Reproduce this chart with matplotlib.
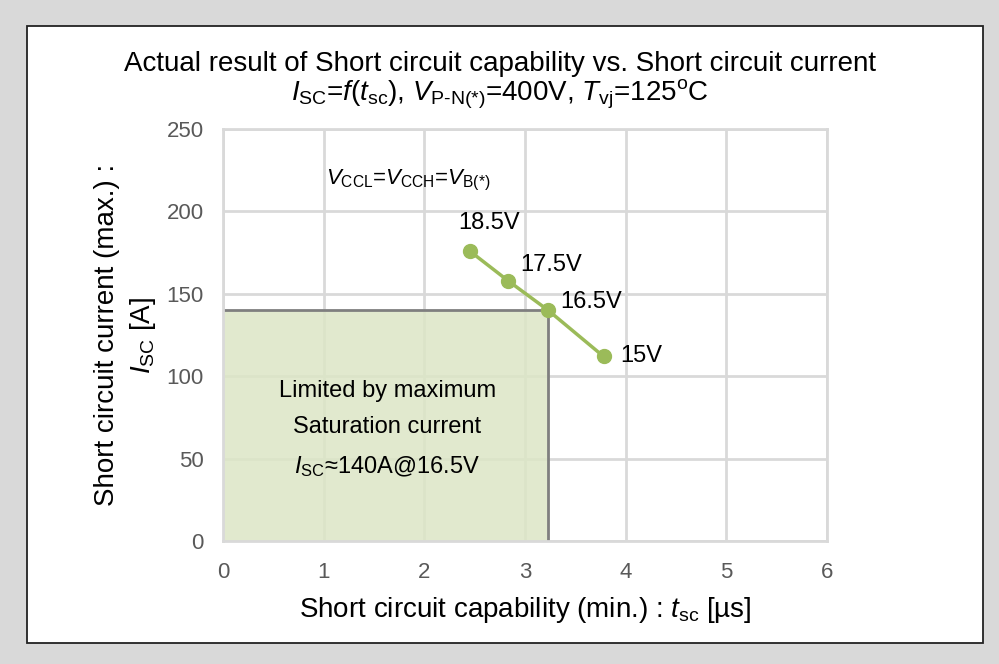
import matplotlib.pyplot as plt
from matplotlib.patches import Rectangle

plt.rcParams['font.family'] = ['Liberation Sans', 'DejaVu Sans']
plt.rcParams['mathtext.fontset'] = 'custom'
plt.rcParams['mathtext.rm'] = 'Liberation Sans'
plt.rcParams['mathtext.it'] = 'Liberation Sans:italic'

# data
gate_voltage = ["18.5V", "17.5V", "16.5V", "15V"]
t_sc = [2.45, 2.83, 3.23, 3.78]
i_sc = [176, 158, 140, 112]
limit_t = 3.23
limit_i = 140
label_offsets = [(-11, 28), (12, 16), (12, 8), (17, 0)]

fig = plt.figure(figsize=(9.99, 6.64), dpi=100)
fig.patch.set_facecolor("#d9d9d9")
fig.patches.append(Rectangle((27 / 999, 21 / 664), 956 / 999, 617 / 664,
                             transform=fig.transFigure, facecolor="white",
                             edgecolor="#222222", linewidth=1.3, zorder=-1))

ax = fig.add_axes([223 / 999, 123 / 664, 604 / 999, 412 / 664])
ax.set_facecolor("none")
ax.set_xlim(0, 6)
ax.set_ylim(0, 250)
ax.set_xticks(range(0, 7))
ax.set_yticks(range(0, 251, 50))
ax.grid(True, color="#d9d9d9", linewidth=2)
ax.set_axisbelow(True)
for s in ax.spines.values():
    s.set_color("#d9d9d9")
    s.set_linewidth(2)
ax.tick_params(length=0, labelsize=16, labelcolor="#595959")
ax.tick_params(axis="x", pad=15)
ax.tick_params(axis="y", pad=14)

ax.add_patch(Rectangle((0, 0), limit_t, limit_i, facecolor="#dce6c6",
                       edgecolor="none", alpha=0.85, zorder=1))
ax.plot([0, limit_t, limit_t], [limit_i, limit_i, 0], color="#7f7f7f",
        linewidth=2, zorder=2)

ax.plot(t_sc, i_sc, color="#9bbb59", linewidth=2.5, marker="o",
        markersize=10, zorder=3)
for lab, x, y, off in zip(gate_voltage, t_sc, i_sc, label_offsets):
    ax.annotate(lab, (x, y), xytext=off, textcoords="offset pixels",
                ha="left", va="center", fontsize=17)

ax.text(1.84, 219, r"$\mathit{V}_{\mathrm{CCL}}$=$\mathit{V}_{\mathrm{CCH}}$=$\mathit{V}_{\mathrm{B(*)}}$",
        ha="center", va="center", fontsize=16)
ax.text(1.63, 91, "Limited by maximum", ha="center", va="center", fontsize=17)
ax.text(1.63, 69, "Saturation current", ha="center", va="center", fontsize=17)
ax.text(1.63, 45, r"$\mathit{I}_{\mathrm{SC}}$≈140A@16.5V", ha="center",
        va="center", fontsize=17)

fig.text(0.5, 1 - 64 / 664,
         "Actual result of Short circuit capability vs. Short circuit current",
         ha="center", va="center", fontsize=20)
fig.text(0.5, 1 - 94 / 664,
         r"$\mathit{I}_{\mathrm{SC}}$=$\mathit{f}$($\mathit{t}_{\mathrm{sc}}$), "
         r"$\mathit{V}_{\mathrm{P\text{-}N(*)}}$=400V, $\mathit{T}_{\mathrm{vj}}$=125$^{\mathrm{o}}$C",
         ha="center", va="center", fontsize=20)

fig.text(525 / 999, 1 - 610 / 664,
         r"Short circuit capability (min.) : $\mathit{t}_{\mathrm{sc}}$ [µs]",
         ha="center", va="center", fontsize=20)
fig.text(107 / 999, 1 - 335 / 664, "Short circuit current (max.) :",
         ha="center", va="center", rotation=90, fontsize=20)
fig.text(143 / 999, 1 - 335 / 664, r"$\mathit{I}_{\mathrm{SC}}$ [A]",
         ha="center", va="center", rotation=90, fontsize=20)

fig.savefig("out.png", dpi=100, facecolor=fig.get_facecolor())
